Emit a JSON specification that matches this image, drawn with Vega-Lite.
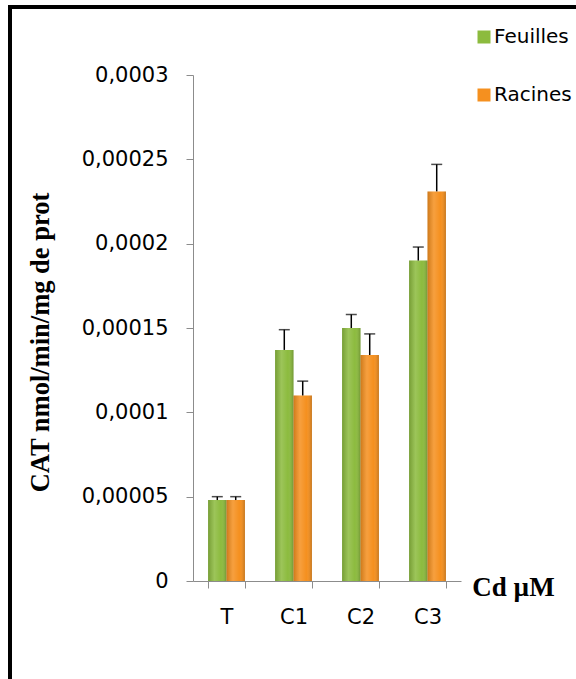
{
  "$schema": "https://vega.github.io/schema/vega-lite/v6.json",
  "width": 570,
  "height": 676,
  "autosize": {"type": "none"},
  "padding": {"left": 10, "top": 7, "right": -4, "bottom": -4},
  "background": "white",
  "view": {"stroke": "black", "strokeWidth": 4},
  "config": {"font": "DejaVu Sans"},
  "data": {
    "values": [
      {"cat": "T", "serie": "Feuilles", "value": 0.000048, "upper": 0.00005},
      {"cat": "T", "serie": "Racines", "value": 0.000048, "upper": 0.00005},
      {"cat": "C1", "serie": "Feuilles", "value": 0.000137, "upper": 0.000149},
      {"cat": "C1", "serie": "Racines", "value": 0.00011, "upper": 0.0001185},
      {"cat": "C2", "serie": "Feuilles", "value": 0.00015, "upper": 0.000158},
      {"cat": "C2", "serie": "Racines", "value": 0.000134, "upper": 0.0001465},
      {"cat": "C3", "serie": "Feuilles", "value": 0.00019, "upper": 0.000198},
      {"cat": "C3", "serie": "Racines", "value": 0.000231, "upper": 0.000247}
    ]
  },
  "encoding": {
    "x": {
      "field": "cat",
      "type": "nominal",
      "sort": ["T", "C1", "C2", "C3"],
      "scale": {"range": [183, 451], "paddingInner": 0.45, "paddingOuter": 0.225},
      "axis": {
        "offset": -102,
        "tickBand": "extent",
        "labelAngle": 0,
        "domainColor": "#8c8c8c",
        "tickColor": "#8c8c8c",
        "tickSize": 7,
        "labelPadding": 18,
        "labelFont": "DejaVu Sans",
        "labelFontSize": 21,
        "labelColor": "black",
        "title": "Cd µM",
        "titleX": 503,
        "titleY": 6,
        "titleAlign": "center",
        "titleBaseline": "middle",
        "titleFont": "Liberation Serif",
        "titleFontWeight": "bold",
        "titleFontSize": 27,
        "titleColor": "black"
      }
    },
    "xOffset": {"field": "serie", "type": "nominal", "sort": ["Feuilles", "Racines"]}
  },
  "layer": [
    {
      "mark": {"type": "bar"},
      "encoding": {
        "y": {
          "field": "value",
          "type": "quantitative",
          "title": "CAT nmol/min/mg de prot",
          "scale": {"domain": [0, 0.0003], "range": [574, 68], "nice": false, "zero": true},
          "axis": {
            "offset": -183,
            "values": [0, 0.00005, 0.0001, 0.00015, 0.0002, 0.00025, 0.0003],
            "labelExpr": "replace(format(datum.value, '~g'), '.', ',')",
            "grid": false,
            "domainColor": "#8c8c8c",
            "tickColor": "#8c8c8c",
            "tickSize": 7,
            "labelPadding": 18,
            "labelFont": "DejaVu Sans",
            "labelFontSize": 21,
            "labelColor": "black",
            "titleX": -153,
            "titleY": 335,
            "titleAngle": -90,
            "titleAlign": "center",
            "titleBaseline": "middle",
            "titleFont": "Liberation Serif",
            "titleFontWeight": "bold",
            "titleFontSize": 26.5,
            "titleColor": "black"
          }
        },
        "color": {
          "field": "serie",
          "type": "nominal",
          "sort": ["Feuilles", "Racines"],
          "scale": {"range": ["#8cbb3e", "#f5901f"]},
          "legend": {
            "orient": "none",
            "legendX": 464,
            "legendY": 20,
            "title": null,
            "symbolType": "square",
            "symbolSize": 169,
            "symbolStrokeWidth": 0,
            "labelFont": "DejaVu Sans",
            "labelFontSize": 20,
            "labelColor": "black",
            "rowPadding": 38,
            "labelOffset": 0,
            "padding": 0
          }
        }
      }
    },
    {
      "mark": {
        "type": "bar",
        "fill": {
          "gradient": "linear",
          "x1": 0, "x2": 1, "y1": 0, "y2": 0,
          "stops": [
            {"offset": 0, "color": "rgba(0,0,0,0.16)"},
            {"offset": 0.35, "color": "rgba(255,255,255,0.14)"},
            {"offset": 0.7, "color": "rgba(255,255,255,0.0)"},
            {"offset": 1, "color": "rgba(0,0,0,0.2)"}
          ]
        }
      },
      "encoding": {
        "y": {"field": "value", "type": "quantitative", "title": "CAT nmol/min/mg de prot"}
      }
    },
    {
      "mark": {"type": "rule", "color": "black", "strokeWidth": 1.5},
      "encoding": {
        "y": {"field": "value", "type": "quantitative", "title": "CAT nmol/min/mg de prot"},
        "y2": {"field": "upper"}
      }
    },
    {
      "mark": {"type": "tick", "color": "black", "thickness": 1.5, "size": 11},
      "encoding": {
        "y": {"field": "upper", "type": "quantitative", "title": "CAT nmol/min/mg de prot"}
      }
    }
  ]
}
